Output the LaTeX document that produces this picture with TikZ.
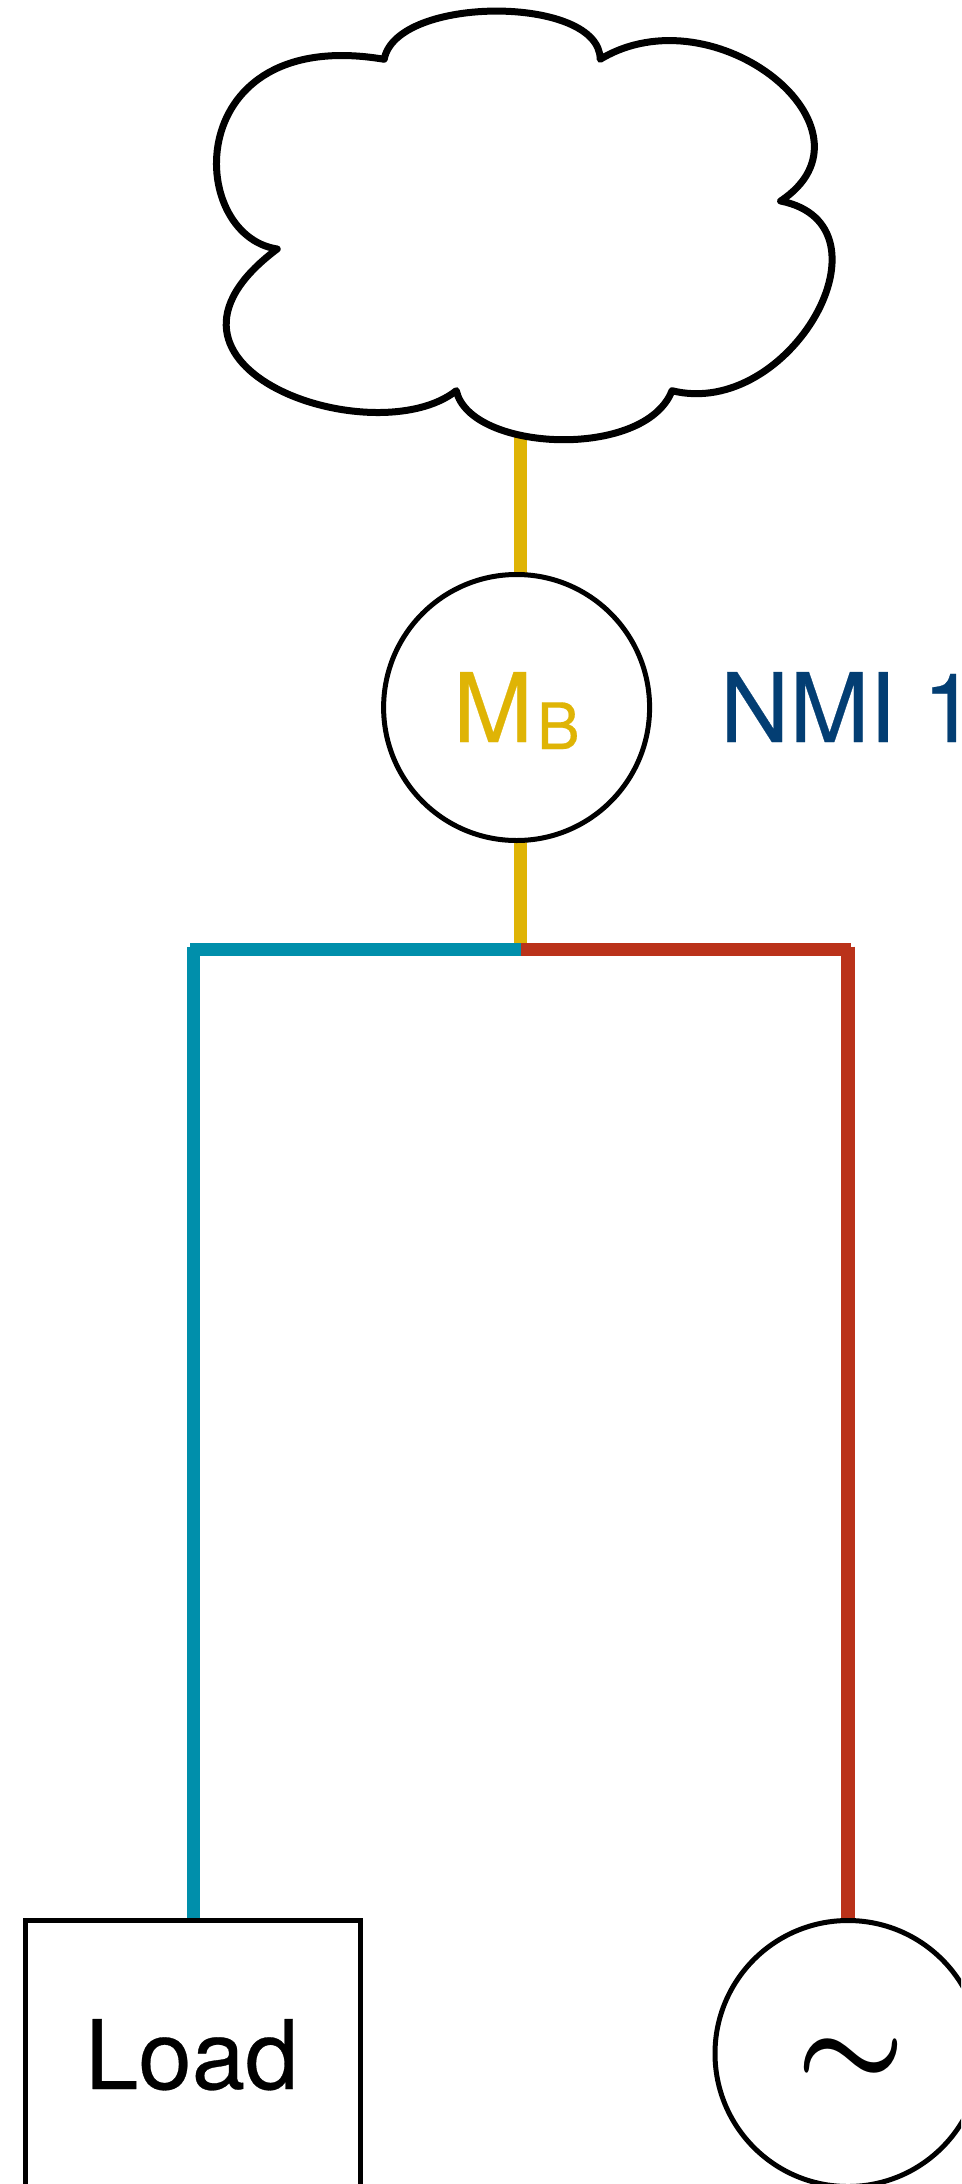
\documentclass[tikz,border=0pt]{standalone}
\usepackage{fontspec}
\setmainfont[FakeBold=0.3]{TeX Gyre Heros}
\font\simfont=cmbsy10 at 122pt
\pgfdeclarelayer{wires}
\pgfsetlayers{wires,main}
\definecolor{gold}{HTML}{DFB405}
\definecolor{navy}{HTML}{033E73}
\definecolor{teal2}{HTML}{008FAB}
\definecolor{red2}{HTML}{BA321A}
\tikzset{
  roundthing/.style={circle,draw=black,line width=5pt,fill=white,inner sep=0pt,outer sep=0pt,minimum size=266pt},
  boxthing/.style={rectangle,draw=black,line width=5pt,fill=white,inner sep=0pt,outer sep=0pt,minimum width=335pt,minimum height=335pt},
  wire/.style={line width=13.3pt,line cap=butt},
  bigtext/.style={inner sep=0pt,outer sep=0pt,anchor=base west,font=\fontsize{96}{96}\selectfont},
  cloudline/.style={draw=black,fill=white,line width=7pt,line join=round}
}
\begin{document}
\begin{tikzpicture}[x=1pt,y=-1pt]
\useasboundingbox (0,0) rectangle (961,2184);
\clip (0,0) rectangle (961,2184);
\draw[cloudline] (384.2,59.3) .. controls (396,-5) and (600,-5) .. (600.2,59.3)
  .. controls (715,-10) and (888,130) .. (780.6,201)
  .. controls (900,225) and (790,420) .. (672,390.7)
  .. controls (645,460) and (470,452) .. (456.3,390.7)
  .. controls (375,455) and (118,368) .. (277.2,249)
  .. controls (185,235) and (181,25) .. (384.2,59.3) -- cycle;
\coordinate (cloudfoot) at (520.5,437);
\node[roundthing] (meter) at (516.6,707.5) {};
\node[bigtext,text=gold] (meterlabel) at (453,742) {M\kern4pt\raisebox{-7pt}{\fontsize{64}{64}\selectfont B}};
\node[bigtext,text=navy] (nmi) at (720,742) {NMI 1};
\coordinate (junction) at (520.5,949.3);
\coordinate (leftcorner) at (190,949.3);
\coordinate (rightcorner) at (851,949.3);
\coordinate (lefttop) at (193.4,946.7);
\coordinate (righttop) at (848,946.7);
\node[boxthing,anchor=north] (load) at (193.4,1920.5) {};
\node[bigtext] (loadlabel) at (85,2089) {Load};
\node[roundthing] (gen) at (848,2053.5) {};
\node[inner sep=0pt,outer sep=0pt,anchor=base west] (tilde) at (796,2086) {\simfont\char"18};
\begin{pgfonlayer}{wires}
\draw[wire,gold] (cloudfoot) -- (cloudfoot |- meter.north);
\draw[wire,gold] (cloudfoot |- meter.south) -- (junction);
\draw[wire,teal2] (junction) -- (leftcorner);
\draw[wire,teal2] (lefttop) -- (load.north);
\draw[wire,red2] (junction) -- (rightcorner);
\draw[wire,red2] (righttop) -- (gen.north);
\end{pgfonlayer}
\end{tikzpicture}
\end{document}
